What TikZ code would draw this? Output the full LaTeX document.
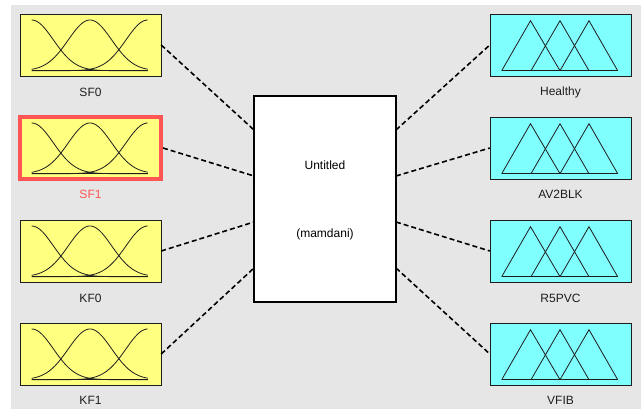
\documentclass[tikz,border=0pt]{standalone}
\usepackage{fontspec}
\setmainfont{Liberation Sans}

\definecolor{panelgray}{RGB}{230,230,230}
\definecolor{mfyellow}{RGB}{255,255,128}
\definecolor{mfcyan}{RGB}{128,255,255}
\definecolor{selred}{RGB}{255,85,85}
\definecolor{mfink}{RGB}{30,30,30}

\begin{document}
\begin{tikzpicture}[x=1pt,y=-1pt,font=\fontsize{12}{14}\selectfont]

        \useasboundingbox (0,0) rectangle (641,409);
        \fill[panelgray] (11,5) rectangle (641,409);

        \begin{scope}[every node/.style={draw=mfink, fill=mfyellow, inner sep=0pt,
            minimum width=141pt, minimum height=62pt}]
          \node (1) at (90.5,45)  {};
          \node[draw=selred, line width=4pt] (2) at (90.5,148) {};
          \node (3) at (90.5,251) {};
          \node (4) at (90.5,354) {};
        \end{scope}

        \begin{scope}[every node/.style={draw=mfink, fill=mfcyan, inner sep=0pt,
            minimum width=141pt, minimum height=62pt}]
          \node (5) at (560.5,45)  {};
          \node (6) at (560.5,148) {};
          \node (7) at (560.5,251) {};
          \node (8) at (560.5,354) {};
        \end{scope}

        \node[draw, line width=2pt, fill=white, inner sep=0pt,
          minimum width=142pt, minimum height=206pt] (9) at (325,199) {};
        \node (10) at (325,165) {Untitled};
        \node (11) at (325,234) {(mamdani)};

        % input membership functions
        \foreach \t in {14,117,220,323} {
          \begin{scope}[shift={(20,\t)}, mfink, line width=0.8pt]
            \draw (11.7,56.7) -- (127.7,56.7);
            \foreach \c in {11.7,70,127.7}
              \draw plot[domain=11.7:127.7, samples=60, smooth]
                (\x,{56.7-50.7*exp(0-((\x-\c)^2)/945)});
          \end{scope}
        }

        % output membership functions
        \foreach \t in {14,117,220,323} {
          \begin{scope}[shift={(490,\t)}, mfink, line width=0.8pt]
            \draw (11.7,56.7) -- (127.7,56.7);
            \draw (11.7,56.7) -- (40.5,6.7) -- (70,56.7);
            \draw (41,56.7) -- (70,6.7) -- (99,56.7);
            \draw (70,56.7) -- (99,6.7) -- (127.7,56.7);
          \end{scope}
        }

        \begin{scope}[every node/.style={text=mfink}]
          \node (12) at (90.5,92)  {SF0};
          \node[text=selred] (13) at (90.5,194) {SF1};
          \node (14) at (90.5,298) {KF0};
          \node (15) at (90.5,400) {KF1};
          \node (16) at (560.5,92)  {Healthy};
          \node (17) at (560.5,194) {AV2BLK};
          \node (18) at (560.5,298) {R5PVC};
          \node (19) at (560.5,400) {VFIB};
        \end{scope}

        \coordinate (in1) at (254,130);
        \coordinate (in2) at (254,176);
        \coordinate (in3) at (254,222);
        \coordinate (in4) at (254,268);
        \coordinate (out1) at (396,130);
        \coordinate (out2) at (396,176);
        \coordinate (out3) at (396,222);
        \coordinate (out4) at (396,268);

        \begin{scope}[every edge/.style={draw, line width=1.6pt, dash pattern=on 5pt off 3pt}]
          \path (1.east) edge (in1);
          \path (2.east) edge (in2);
          \path (3.east) edge (in3);
          \path (4.east) edge (in4);
          \path (out1) edge (5.west);
          \path (out2) edge (6.west);
          \path (out3) edge (7.west);
          \path (out4) edge (8.west);
        \end{scope}

      \end{tikzpicture}
\end{document}
